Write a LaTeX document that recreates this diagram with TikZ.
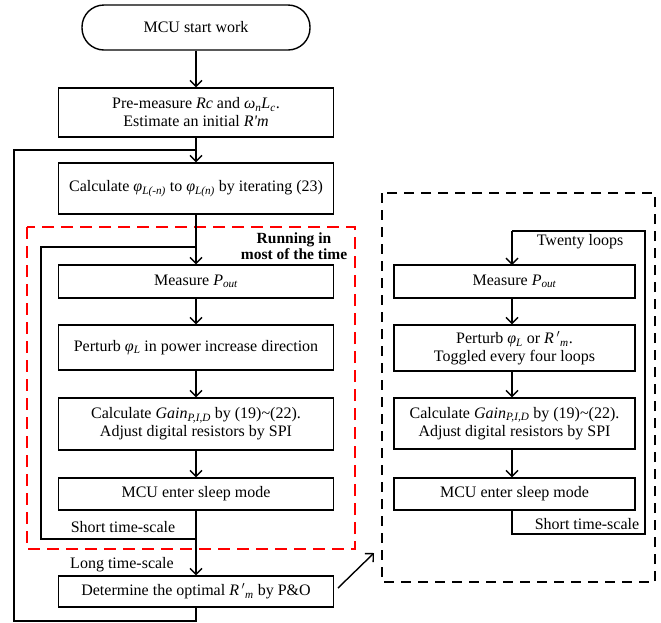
\documentclass[tikz,border=0pt]{standalone}
\usepackage{fontspec}
\setmainfont{Liberation Serif}
\usetikzlibrary{arrows.meta}
\newcommand{\sbs}[1]{\textsubscript{#1}}
\begin{document}
\begin{tikzpicture}[x=1pt,y=-1pt,
  every node/.style={font=\fontsize{16}{18}\selectfont},
  box/.style={draw,line width=1.4pt,minimum height=#1,inner sep=0pt,align=center},
  wbox/.style={box=#1,minimum width=275pt},
  rbox/.style={box=#1,minimum width=241pt},
  ln/.style={line width=1.4pt},
  arr/.style={ln,-{Straight Barb[length=6pt,width=12pt,line width=1.4pt]}},
  lbl/.style={inner sep=0pt,anchor=center}]
\useasboundingbox (0,0) rectangle (661,622);
% left column
\node[draw,line width=1.4pt,rounded corners=22pt,minimum width=228pt,minimum height=45pt,inner sep=0pt] (start) at (196,27.5) {MCU start work};
\node[wbox=49pt] (pre) at (196,112.5) {Pre-measure \textit{Rc} and \textit{ω\sbs{n}L\sbs{c}}.\\Estimate an initial \textit{R\textquotesingle m}};
\node[wbox=51pt] (calc) at (196,188.5) {Calculate \textit{φ\sbs{L(-n)}} to \textit{φ\sbs{L(n)}} by iterating (23)};
\node[wbox=33pt] (meas) at (196,281.5) {Measure \textit{P\sbs{out}}};
\node[wbox=45pt] (pert) at (196,347.5) {Perturb \textit{φ\sbs{L}} in power increase direction};
\node[wbox=52pt] (gain) at (196,424) {Calculate \textit{Gain\sbs{P,I,D}} by (19)\textasciitilde(22).\\Adjust digital resistors by SPI};
\node[wbox=32pt] (sleep) at (196,494) {MCU enter sleep mode};
\node[wbox=31pt] (det) at (196,591.5) {Determine the optimal \textit{R\,$'$\sbs{m}} by P\&O};
% right column
\node[rbox=33pt] (measR) at (514.5,281.5) {Measure \textit{P\sbs{out}}};
\node[rbox=46pt] (pertR) at (514.5,348) {Perturb \textit{φ\sbs{L}} or \textit{R\,$'$\sbs{m}}.\\Toggled every four loops};
\node[rbox=51pt] (gainR) at (514.5,423.5) {Calculate \textit{Gain\sbs{P,I,D}} by (19)\textasciitilde(22).\\Adjust digital resistors by SPI};
\node[rbox=32pt] (sleepR) at (514.5,494) {MCU enter sleep mode};
% dashed frames
\draw[red,line width=1.4pt,dash pattern=on 12pt off 7pt] (27,227) rectangle (355,549);
\draw[black,line width=1.4pt,dash pattern=on 10pt off 7pt] (382,193) rectangle (655,582);
% coordinates
\coordinate (j1) at (196,150);
\coordinate (j2) at (196,247);
\coordinate (o1) at (196,621);
\coordinate (o2) at (14,621);
\coordinate (o3) at (14,150);
\coordinate (i1) at (196,539);
\coordinate (i2) at (41,539);
\coordinate (i3) at (41,247);
\coordinate (r0) at (512,510);
\coordinate (r1) at (512,534);
\coordinate (r2) at (645,534);
\coordinate (r3) at (645,231);
\coordinate (r4) at (512,231);
\coordinate (r5) at (512,265);
\coordinate (d1) at (338,588);
\coordinate (d2) at (374,553);
% arrows
\draw[arr] (start) -- (pre);
\draw[arr] (pre) -- (calc);
\draw[arr] (calc) -- (meas);
\draw[arr] (meas) -- (pert);
\draw[arr] (pert) -- (gain);
\draw[arr] (gain) -- (sleep);
\draw[arr] (sleep) -- (det);
\draw[ln] (det.south) -- (o1) -- (o2) -- (o3) -- (j1);
\draw[ln] (i1) -- (i2) -- (i3) -- (j2);
\draw[ln] (r0) -- (r1) -- (r2) -- (r3) -- (r4);
\draw[arr] (r4) -- (r5);
\draw[arr] (measR.south -| r4) -- (pertR.north -| r4);
\draw[arr] (pertR.south -| r4) -- (gainR.north -| r4);
\draw[arr] (gainR.south -| r4) -- (sleepR.north -| r4);
\draw[arr] (d1) -- (d2);
% labels
\node[lbl,align=center,font=\fontsize{15.5}{16}\selectfont\bfseries] (run) at (294,246) {Running in\\most of the time};
\node[lbl] (st1) at (123,527) {Short time-scale};
\node[lbl] (lt) at (122,565) {Long time-scale};
\node[lbl] (tw) at (580,242) {Twenty loops};
\node[lbl] (st2) at (587,524) {Short time-scale};
\end{tikzpicture}
\end{document}
